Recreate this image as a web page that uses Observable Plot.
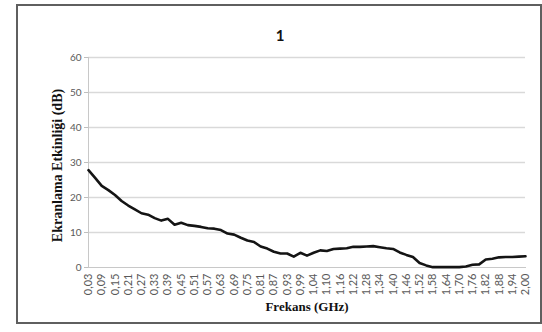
<!DOCTYPE html>
<html><head><meta charset="utf-8">
<script src="https://cdn.jsdelivr.net/npm/d3@7"></script>
<script src="https://cdn.jsdelivr.net/npm/@observablehq/plot@0.6"></script>
<style>
body{margin:0;background:#fff;}
#wrap{position:relative;width:542px;height:332px;overflow:hidden;background:#fff;}
#wrap svg{position:absolute;left:0;top:0;}
#frame{position:absolute;left:16px;top:4px;width:522px;height:316px;border:2px solid #5f5f5f;pointer-events:none;}
</style></head><body><div id="wrap"><div id="frame"></div></div>
<script>
const freqs = ["0,03","0,06","0,09","0,12","0,15","0,18","0,21","0,24","0,27","0,30","0,33","0,36","0,39","0,42","0,45","0,48","0,51","0,54","0,57","0,60","0,63","0,66","0,69","0,72","0,75","0,78","0,81","0,84","0,87","0,90","0,93","0,96","0,99","1,01","1,04","1,07","1,10","1,13","1,16","1,19","1,22","1,25","1,28","1,31","1,34","1,37","1,40","1,43","1,46","1,49","1,52","1,55","1,58","1,61","1,64","1,67","1,70","1,73","1,76","1,79","1,82","1,85","1,88","1,91","1,94","1,97","2,00"];
const values = [27.8,25.6,23.3,22.1,20.7,19.0,17.7,16.6,15.5,15.1,14.1,13.4,13.9,12.2,12.8,12.1,11.9,11.6,11.2,11.1,10.7,9.7,9.4,8.5,7.7,7.3,6.0,5.4,4.5,4.0,4.0,3.1,4.2,3.4,4.2,4.9,4.7,5.3,5.4,5.5,5.9,5.9,6.0,6.1,5.8,5.5,5.3,4.3,3.6,3.0,1.3,0.6,0.1,0.1,0.1,0.1,0.1,0.3,0.8,0.9,2.3,2.5,2.9,3.0,3.0,3.1,3.2];
const xTickLabels = ["0,03","0,09","0,15","0,21","0,27","0,33","0,39","0,45","0,51","0,57","0,63","0,69","0,75","0,81","0,87","0,93","0,99","1,04","1,10","1,16","1,22","1,28","1,34","1,40","1,46","1,52","1,58","1,64","1,70","1,76","1,82","1,88","1,94","2,00"];
const yTicks = [0,10,20,30,40,50,60];
const title = "1";
const xTitle = "Frekans (GHz)";
const yTitle = "Ekranlama Etkinliği (dB)";

const data = freqs.map((f, i) => ({f, v: values[i]}));

const chart = Plot.plot({
  width: 542, height: 332,
  marginLeft: 88, marginRight: 17, marginTop: 57, marginBottom: 65,
  style: {fontFamily: "Lato, 'Open Sans', sans-serif", background: "transparent", overflow: "visible"},
  x: {type: "point", domain: freqs, padding: 0},
  y: {domain: [0, 60]},
  marks: [
    Plot.gridY(yTicks.slice(1), {stroke: "#d9d9d9", strokeOpacity: 1, strokeWidth: 1.3}),
    Plot.frame({anchor: "left", stroke: "#c8c8c8"}),
    Plot.frame({anchor: "bottom", stroke: "#c8c8c8"}),
    Plot.axisY(yTicks, {tickSize: 4, tickPadding: 3, fontSize: 10, stroke: "#bfbfbf", fill: "#595959", label: null}),
    Plot.axisX(xTickLabels, {tickRotate: -90, tickSize: 0, tickPadding: 6, fontSize: 11, fill: "#595959", label: null}),
    Plot.line(data, {x: "f", y: "v", stroke: "#141414", strokeWidth: 2.6}),
    Plot.text([title], {text: d => d, frameAnchor: "top", dx: -27, dy: -27, fontSize: 15, fontWeight: "bold", fill: "#111"}),
    Plot.text([xTitle], {text: d => d, frameAnchor: "bottom", dy: 43, fontSize: 13, fontWeight: "bold", fontFamily: "'Liberation Serif', serif", fill: "#111"}),
    Plot.text([yTitle], {text: d => d, frameAnchor: "left", textAnchor: "middle", rotate: -90, dx: -31, dy: 3, fontSize: 14, fontWeight: "bold", fontFamily: "'Liberation Serif', serif", fill: "#111"})
  ]
});
document.getElementById("wrap").prepend(chart);
</script>
</body></html>
